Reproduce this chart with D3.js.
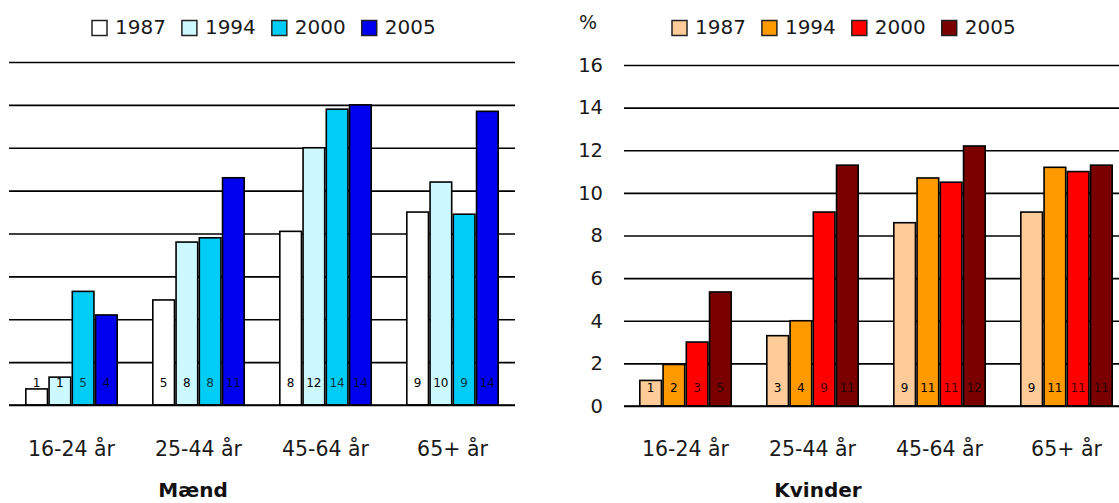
<!DOCTYPE html>
<html>
<head>
<meta charset="utf-8">
<script src="https://cdn.jsdelivr.net/npm/d3@7"></script>
<style>
  html, body { margin: 0; padding: 0; background: #fff; }
  svg { display: block; }
  text { font-family: "DejaVu Sans", Verdana, sans-serif; }
</style>
</head>
<body>
<svg id="chart" width="1119" height="503"></svg>
<script>
// ---- data ----
const categories = ["16-24 år", "25-44 år", "45-64 år", "65+ år"];
const years = ["1987", "1994", "2000", "2005"];
const yTicks = [0, 2, 4, 6, 8, 10, 12, 14, 16];

// Mænd: bar heights and printed labels
const men1987 = [0.75, 4.9, 8.1, 9.0];
const men1994 = [1.3, 7.6, 12.0, 10.4];
const men2000 = [5.3, 7.8, 13.8, 8.9];
const men2005 = [4.2, 10.6, 14.0, 13.7];
const menLabels1987 = ["1", "5", "8", "9"];
const menLabels1994 = ["1", "8", "12", "10"];
const menLabels2000 = ["5", "8", "14", "9"];
const menLabels2005 = ["4", "11", "14", "14"];

// Kvinder
const women1987 = [1.2, 3.3, 8.6, 9.1];
const women1994 = [1.95, 4.0, 10.7, 11.2];
const women2000 = [3.0, 9.1, 10.5, 11.0];
const women2005 = [5.35, 11.3, 12.2, 11.3];
const womenLabels1987 = ["1", "3", "9", "9"];
const womenLabels1994 = ["2", "4", "11", "11"];
const womenLabels2000 = ["3", "9", "11", "11"];
const womenLabels2005 = ["5", "11", "12", "11"];

const menColors = ["#ffffff", "#ccf8ff", "#00ccf5", "#0000ee"];
const womenColors = ["#ffcc99", "#ff9900", "#ff0000", "#7a0000"];

const svg = d3.select("#chart");

function panel(opts) {
  const g = svg.append("g");
  const x0 = d3.scaleBand().domain(categories)
    .range([opts.x0, opts.x1]).paddingInner(0.268).paddingOuter(0.134);
  const x1 = d3.scaleBand().domain(years).range([0, x0.bandwidth()]).padding(0);
  const y = d3.scaleLinear().domain([0, 16]).range([opts.yBase, opts.yTop]);

  // gridlines (and y labels if requested)
  const yAxis = d3.axisLeft(y).tickValues(yTicks)
    .tickSize(-(opts.gridX1 - opts.gridX0))
    .tickPadding(opts.showY ? 21 : 0)
    .tickFormat(opts.showY ? d3.format("d") : () => "");
  const ya = g.append("g").attr("transform", `translate(${opts.gridX0},0)`).call(yAxis);
  ya.select(".domain").remove();
  ya.selectAll(".tick line").attr("stroke", "#000").attr("stroke-width", 1.6);
  ya.selectAll(".tick text").attr("font-size", 19.5).attr("fill", "#1a1a1a")
    .attr("font-family", "DejaVu Sans");

  // bars
  const series = opts.series;
  series.forEach((vals, si) => {
    const sg = g.append("g");
    sg.selectAll("rect").data(vals).enter().append("rect")
      .attr("x", (d, i) => x0(categories[i]) + x1(years[si]) + 0.8)
      .attr("y", d => y(d))
      .attr("width", x1.bandwidth() - 1.6)
      .attr("height", d => y(0) - y(d))
      .attr("fill", opts.colors[si])
      .attr("stroke", "#000").attr("stroke-width", 1.6);
    sg.selectAll("text").data(opts.labels[si]).enter().append("text")
      .attr("x", (d, i) => x0(categories[i]) + x1(years[si]) + x1.bandwidth() / 2)
      .attr("y", y(0) - opts.labelOffset)
      .attr("text-anchor", "middle")
      .attr("dominant-baseline", "middle")
      .attr("font-size", 12)
      .attr("fill", "#000")
      .attr("fill-opacity", si >= 2 ? 0.75 : 1)
      .text(d => d);
  });

  // baseline
  g.append("line").attr("x1", opts.gridX0).attr("x2", opts.gridX1)
    .attr("y1", y(0)).attr("y2", y(0)).attr("stroke", "#000").attr("stroke-width", 1.6);

  // x axis labels
  const xAxis = d3.axisBottom(x0).tickSize(0).tickPadding(0);
  const xa = g.append("g").attr("transform", `translate(0,${opts.xLabelY})`).call(xAxis);
  xa.select(".domain").remove();
  xa.selectAll(".tick text").attr("font-size", 20.5).attr("fill", "#1a1a1a")
    .attr("font-family", "DejaVu Sans").attr("dy", 0).attr("dominant-baseline", "middle");

  // title
  g.append("text").attr("x", opts.titleX).attr("y", 491)
    .attr("text-anchor", "middle").attr("dominant-baseline", "middle")
    .attr("font-weight", "bold").attr("font-size", 20).attr("fill", "#111")
    .text(opts.title);

  // legend
  const lg = g.append("g");
  let lx = opts.legendX;
  years.forEach((yr, i) => {
    lg.append("rect").attr("x", lx).attr("y", opts.legendY - 7.5)
      .attr("width", 15).attr("height", 15)
      .attr("fill", opts.colors[i]).attr("stroke", "#222").attr("stroke-width", 1.5);
    const t = lg.append("text").attr("x", lx + 23).attr("y", opts.legendY)
      .attr("dominant-baseline", "middle").attr("font-size", 20).attr("fill", "#1a1a1a")
      .text(yr);
    lx += 23 + t.node().getComputedTextLength() + 16;
  });
}

panel({
  x0: 8, x1: 516, gridX0: 9, gridX1: 515, yBase: 405, yTop: 62,
  showY: false, series: [men1987, men1994, men2000, men2005],
  labels: [menLabels1987, menLabels1994, menLabels2000, menLabels2005],
  colors: menColors, labelOffset: 22, xLabelY: 450,
  title: "Mænd", titleX: 193, legendX: 92, legendY: 28
});

panel({
  x0: 622, x1: 1130, gridX0: 624, gridX1: 1130, yBase: 406, yTop: 65,
  showY: true, series: [women1987, women1994, women2000, women2005],
  labels: [womenLabels1987, womenLabels1994, womenLabels2000, womenLabels2005],
  colors: womenColors, labelOffset: 18, xLabelY: 450,
  title: "Kvinder", titleX: 818, legendX: 672, legendY: 28
});

svg.append("text").attr("x", 588).attr("y", 23).attr("text-anchor", "middle")
  .attr("dominant-baseline", "middle").attr("font-size", 19).attr("fill", "#1a1a1a")
  .attr("font-family", "DejaVu Sans").text("%");
</script>
</body>
</html>
